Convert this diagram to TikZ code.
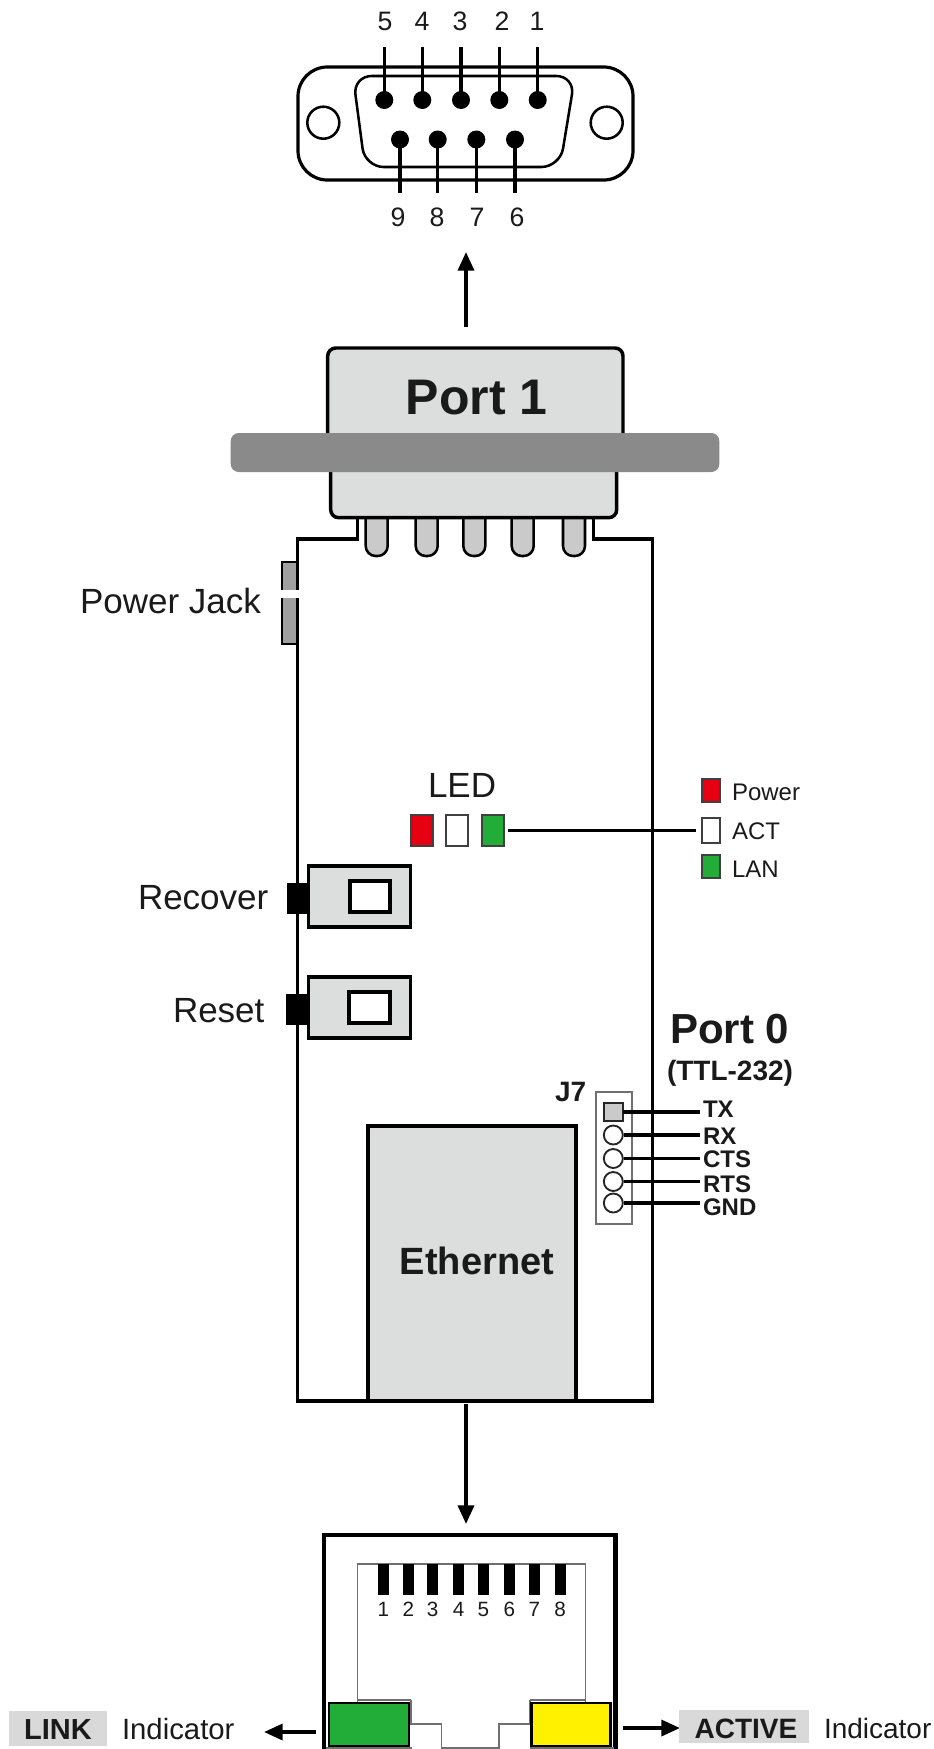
\documentclass[tikz,border=0pt]{standalone}
\usepackage{fontspec}
\setmainfont{Liberation Sans}
\usetikzlibrary{arrows.meta}
\definecolor{ink}{HTML}{1A1A1A}
\definecolor{bodygrey}{HTML}{DCDDDD}
\definecolor{bargrey}{HTML}{8A8A8A}
\definecolor{pingrey}{HTML}{C9CAC9}
\definecolor{jackgrey}{HTML}{A0A0A0}
\definecolor{linegrey}{HTML}{707070}
\definecolor{ledred}{HTML}{E60012}
\definecolor{ledgreen}{HTML}{22AC38}
\definecolor{ledyellow}{HTML}{FFF100}
\definecolor{tagbg}{HTML}{D9D9D9}
\newcommand{\bx}[6]{%
  \pgfmathsetmacro\cxv{(#3+#5)/2}\pgfmathsetmacro\cyv{(#4+#6)/2}%
  \pgfmathsetmacro\wv{(#5-#3)*0.75}\pgfmathsetmacro\hv{(#6-#4)*0.75}%
  \node[boxbase,#2,minimum width=\wv pt,minimum height=\hv pt] (#1) at (\cxv,\cyv) {};}
\tikzset{
  boxbase/.style={rectangle,inner sep=0pt,outer sep=0pt},
  heavy/.style={draw=black,line width=2.6pt},
  med/.style={draw=black,line width=2.4pt},
  ledbox/.style={draw=black!75,line width=1.7pt},
  thin grey/.style={draw=linegrey,line width=1.1pt},
  arr/.style={-{Triangle[length=14pt,width=12pt]},line width=2.6pt,black},
  wire/.style={draw=black,line width=2.3pt},
  txt/.style={inner sep=0pt,outer sep=0pt,text=ink},
  pxA/.style={txt,font=\fontsize{20}{24}\selectfont},
  pxB/.style={txt,font=\fontsize{26.25}{31}\selectfont},
  pxC/.style={txt,font=\fontsize{18}{22}\selectfont},
  pxCb/.style={txt,font=\fontsize{18}{22}\selectfont\bfseries},
  pxD/.style={txt,font=\fontsize{22}{26}\selectfont},
  pxDr/.style={txt,font=\fontsize{21}{25}\selectfont},
  pxDb/.style={txt,font=\fontsize{21}{25}\selectfont\bfseries},
  pxE/.style={txt,font=\fontsize{15.5}{18}\selectfont},
  dot/.style={circle,fill=black,inner sep=0pt,minimum size=13.5pt},
  hole/.style={circle,draw=black,line width=1.9pt,fill=white,inner sep=0pt,minimum size=24pt},
  jpin/.style={circle,draw=black!85,line width=1.4pt,fill=white,inner sep=0pt,minimum size=14.25pt},
}
\begin{document}
\begin{tikzpicture}[x=0.75pt,y=-0.75pt]
\useasboundingbox (0,0) rectangle (934,1749);
\fill[white] (0,0) rectangle (934,1749);

% ---------- D-sub connector ----------
\bx{dsub}{med,rounded corners=22pt,fill=white}{298}{67}{633}{180}
\draw[black,line width=1.9pt,rounded corners=14pt]
  (353,76) -- (575,76) -- (560,167) -- (365,167) -- cycle;
\node[hole] (holeL) at (323.3,122.7) {};
\node[hole] (holeR) at (606.7,122.7) {};
\foreach \n/\x/\lx/\d in {5/384.3/385/5,4/422.3/422/4,3/461/460/3,2/499.3/502/2,1/537.7/537/1}{
  \node[dot] (pin\n) at (\x,100) {};
  \coordinate (lead\n) at (\x,47);
  \draw[wire] (lead\n) -- (pin\n.center);
  \node[pxA,anchor=base] (num\n) at (\lx,30.7) {\d};
}
\foreach \n/\x/\lx/\d in {9/400/398/9,8/437.7/437/8,7/476.3/477/7,6/515/517/6}{
  \node[dot] (pin\n) at (\x,139.5) {};
  \coordinate (lead\n) at (\x,193);
  \draw[wire] (lead\n) -- (pin\n.center);
  \node[pxA,anchor=base] (num\n) at (\lx,226) {\d};
}

% ---------- up arrow ----------
\coordinate (upstart) at (466,327);
\coordinate (upend) at (466,252);
\draw[arr] (upstart) -- (upend);

% ---------- board ----------
\draw[heavy,fill=white] (357.7,517) -- (357.7,539) -- (297.3,539) -- (297.3,1401)
  -- (652.7,1401) -- (652.7,539) -- (593.3,539) -- (593.3,517);
% power jack
\bx{jack}{draw=black,line width=1.7pt,fill=jackgrey}{281.7}{562}{297}{644}
\fill[white] (279,590) rectangle (299,598);
\node[pxB,anchor=base east] (jacktxt) at (261,613) {Power Jack};

% ---------- pins of port 1 ----------
\foreach \x in {376.7,426.7,474.3,522.7,574}{
  \draw[black,line width=1.9pt,fill=pingrey,rounded corners=7.5pt]
    (\x-11,515) -- (\x-11,556) -- (\x+11,556) -- (\x+11,515);
}

% ---------- port 1 body ----------
\draw[heavy,fill=bodygrey,rounded corners=6pt]
  (327.7,440) -- (327.7,348) -- (623,348) -- (623,440);
\draw[heavy,fill=bodygrey,rounded corners=6pt]
  (330.7,465) -- (330.7,517.7) -- (616.7,517.7) -- (616.7,465);
\bx{bar}{fill=bargrey,rounded corners=6pt}{230.7}{433}{719.3}{472}
\node[txt,font=\fontsize{37.5}{44}\selectfont\bfseries,anchor=base] (port1) at (476.7,414) {Port 1};

% ---------- switches ----------
\bx{blackA}{fill=black}{287}{883}{309}{914}
\bx{switchA}{heavy,fill=bodygrey}{308.5}{866}{410.5}{927}
\bx{winA}{heavy,fill=white}{350}{881}{390}{912}
\node[pxB,anchor=base west] (recover) at (138,909) {Recover};
\bx{blackB}{fill=black}{286}{994}{309}{1025}
\bx{switchB}{heavy,fill=bodygrey}{308.5}{977}{410.5}{1038}
\bx{winB}{heavy,fill=white}{349}{992}{390}{1023}
\node[pxB,anchor=base west] (reset) at (173,1022) {Reset};

% ---------- LEDs ----------
\node[pxB,anchor=base west] (ledtxt) at (428,797) {LED};
\bx{ledR}{ledbox,fill=ledred}{411}{815}{433}{846}
\bx{ledW}{ledbox,fill=white}{446}{815}{468}{846}
\bx{ledG}{ledbox,fill=ledgreen}{482}{815}{504}{846}
\bx{legR}{ledbox,fill=ledred}{702}{779}{720}{802}
\bx{legW}{ledbox,fill=white}{702}{818}{720}{843}
\bx{legG}{ledbox,fill=ledgreen}{702}{855}{720}{878}
\draw[wire,shorten <=3pt,shorten >=4.5pt] (ledG.east) -- (legW.west);
\node[pxC,anchor=base west] (legRt) at (732,800) {Power};
\node[pxC,anchor=base west] (legWt) at (732,839) {ACT};
\node[pxC,anchor=base west] (legGt) at (732,877) {LAN};

% ---------- Port 0 / J7 ----------
\node[txt,font=\fontsize{31.5}{37}\selectfont\bfseries,anchor=base west] (port0) at (670,1043) {Port 0};
\node[pxDb,anchor=base west] (ttl) at (667,1080) {(TTL-232)};
\node[pxDb,anchor=base west] (j7) at (555,1101) {J7};
\bx{jbox}{thin grey,fill=white}{596}{1092}{632}{1224}
\bx{jtx}{draw=black!85,line width=1.4pt,fill=pingrey}{604}{1103}{623}{1121}
\node[jpin] (jrx) at (613.3,1135) {};
\node[jpin] (jcts) at (613.3,1158.5) {};
\node[jpin] (jrts) at (613.3,1181.5) {};
\node[jpin] (jgnd) at (613.3,1203) {};
\coordinate (etx) at (700,1112);
\coordinate (erx) at (700,1135);
\coordinate (ects) at (700,1158.5);
\coordinate (erts) at (700,1181.5);
\coordinate (egnd) at (700,1203);
\draw[wire] (jtx.east) -- (etx);
\draw[wire] (jrx.east) -- (erx);
\draw[wire] (jcts.east) -- (ects);
\draw[wire] (jrts.east) -- (erts);
\draw[wire] (jgnd.east) -- (egnd);
\node[pxCb,anchor=base west] (ttx) at (703,1117) {TX};
\node[pxCb,anchor=base west] (trx) at (703,1144) {RX};
\node[pxCb,anchor=base west] (tcts) at (703,1167) {CTS};
\node[pxCb,anchor=base west] (trts) at (703,1192) {RTS};
\node[pxCb,anchor=base west] (tgnd) at (703,1215) {GND};

% ---------- Ethernet ----------
\bx{eth}{heavy,fill=bodygrey}{368}{1126}{576}{1401}
\node[txt,font=\fontsize{28.5}{34}\selectfont\bfseries,anchor=base] (ethtxt) at (477,1274) {Ethernet};
\coordinate (dnstart) at (466,1404);
\coordinate (dnend) at (466,1524);
\draw[arr] (dnstart) -- (dnend);

% ---------- RJ45 ----------
\draw[black,line width=3.6pt] (324,1749) -- (324,1535) -- (615.7,1535) -- (615.7,1749);
\draw[linegrey,line width=1.1pt] (357.7,1702) -- (357.7,1564) -- (585.7,1564) -- (585.7,1702);
\draw[linegrey,line width=1.1pt] (411,1700) -- (411,1724) -- (441.7,1724) -- (441.7,1748)
  -- (499,1748) -- (499,1724) -- (530,1724) -- (530,1700);
\draw[linegrey,line width=1.1pt] (357.7,1700) -- (411,1700);
\draw[linegrey,line width=1.1pt] (530,1700) -- (585.7,1700);
\draw[linegrey,line width=1.1pt] (326,1748) -- (412,1748);
\draw[linegrey,line width=1.1pt] (530,1748) -- (614,1748);
\bx{link}{draw=black,line width=2.1pt,fill=ledgreen}{329}{1703}{409}{1746}
\bx{active}{draw=black,line width=2.1pt,fill=ledyellow}{531.7}{1703}{610.7}{1746}
\foreach \n/\x in {1/383.3,2/408.3,3/432.7,4/458.7,5/483.3,6/509.3,7/534.3,8/560}{
  \pgfmathsetmacro\xa{\x-5.5}\pgfmathsetmacro\xb{\x+5.5}
  \fill[black] (\xa,1564) rectangle (\xb,1595);
  \node[pxE,anchor=base] (rj\n) at (\x,1616) {\n};
}

% ---------- indicators ----------
\bx{linktag}{fill=tagbg}{9}{1711}{107}{1746}
\node[txt,font=\fontsize{21.75}{26}\selectfont\bfseries,anchor=base] (linktxt) at (58,1739) {LINK};
\node[pxD,anchor=base west] (linkind) at (122,1739) {Indicator};
\coordinate (lstart) at (316,1732);
\coordinate (lend) at (264,1732);
\draw[arr] (lstart) -- (lend);
\coordinate (rstart) at (623,1728);
\coordinate (rend) at (680,1728);
\draw[arr] (rstart) -- (rend);
\bx{acttag}{fill=tagbg}{679}{1710}{809}{1743}
\node[txt,font=\fontsize{21}{25}\selectfont\bfseries,anchor=base] (acttxt) at (746,1738) {ACTIVE};
\node[pxDr,anchor=base west] (actind) at (824,1738) {Indicator};
\end{tikzpicture}
\end{document}
